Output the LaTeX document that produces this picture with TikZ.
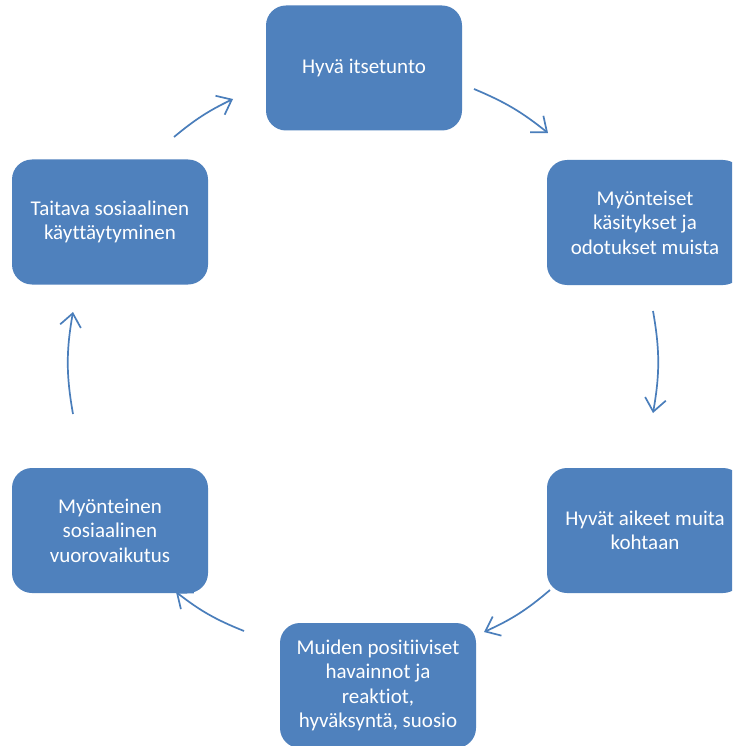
\documentclass[tikz,border=0pt]{standalone}
\usepackage{fontspec}
\setmainfont{Carlito}[RawFeature={-liga;-clig;-calt;-dlig}]
\usetikzlibrary{arrows.meta}
\definecolor{boxblue}{HTML}{4F81BD}
\definecolor{arrblue}{HTML}{4A7EBB}
\tikzset{
  cyclebox/.style={rectangle, rounded corners=20pt, fill=boxblue, text=white,
    minimum width=196pt, minimum height=125pt, inner sep=4pt, align=center,
    font=\fontsize{21}{24.5}\selectfont},
  cyclearrow/.style={draw=arrblue, line width=1.7pt,
    -{Straight Barb[length=13pt, width=21pt, line width=1.7pt]}}
}
\begin{document}
\begin{tikzpicture}[x=1pt, y=-1pt]
\useasboundingbox (0,0) rectangle (732,746);
\clip (0,0) rectangle (732,746);
\fill[white] (0,0) rectangle (732,746);
% arrow end points
\coordinate (a1s) at (474,89);  \coordinate (a1e) at (548,133);
\coordinate (a2s) at (653,311); \coordinate (a2e) at (653,413);
\coordinate (a3s) at (550,590); \coordinate (a3e) at (484,632);
\coordinate (a4s) at (244,631); \coordinate (a4e) at (176,592);
\coordinate (a5s) at (73,414);  \coordinate (a5e) at (73,312);
\coordinate (a6s) at (174,137); \coordinate (a6e) at (233,99);
\draw[cyclearrow] (a1s) to[bend left=8] (a1e);
\draw[cyclearrow] (a2s) to[bend left=10] (a2e);
\draw[cyclearrow] (a3s) to[bend left=8] (a3e);
\draw[cyclearrow] (a4s) to[bend left=8] (a4e);
\draw[cyclearrow] (a5s) to[bend left=10] (a5e);
\draw[cyclearrow] (a6s) to[bend left=7] (a6e);
% boxes
\node[cyclebox] (top) at (364,68) {Hyvä itsetunto};
\node[cyclebox] (rt) at (645,222.5) {Myönteiset\\käsitykset ja\\odotukset muista};
\node[cyclebox] (rb) at (645,530.5) {Hyvät aikeet muita\\kohtaan};
\node[cyclebox] (bot) at (378,685.5) {Muiden positiiviset\\havainnot ja\\reaktiot,\\hyväksyntä, suosio};
\node[cyclebox] (lb) at (110,530.5) {Myönteinen\\sosiaalinen\\vuorovaikutus};
\node[cyclebox] (lt) at (110,222) {Taitava sosiaalinen\\käyttäytyminen};
\end{tikzpicture}
\end{document}
